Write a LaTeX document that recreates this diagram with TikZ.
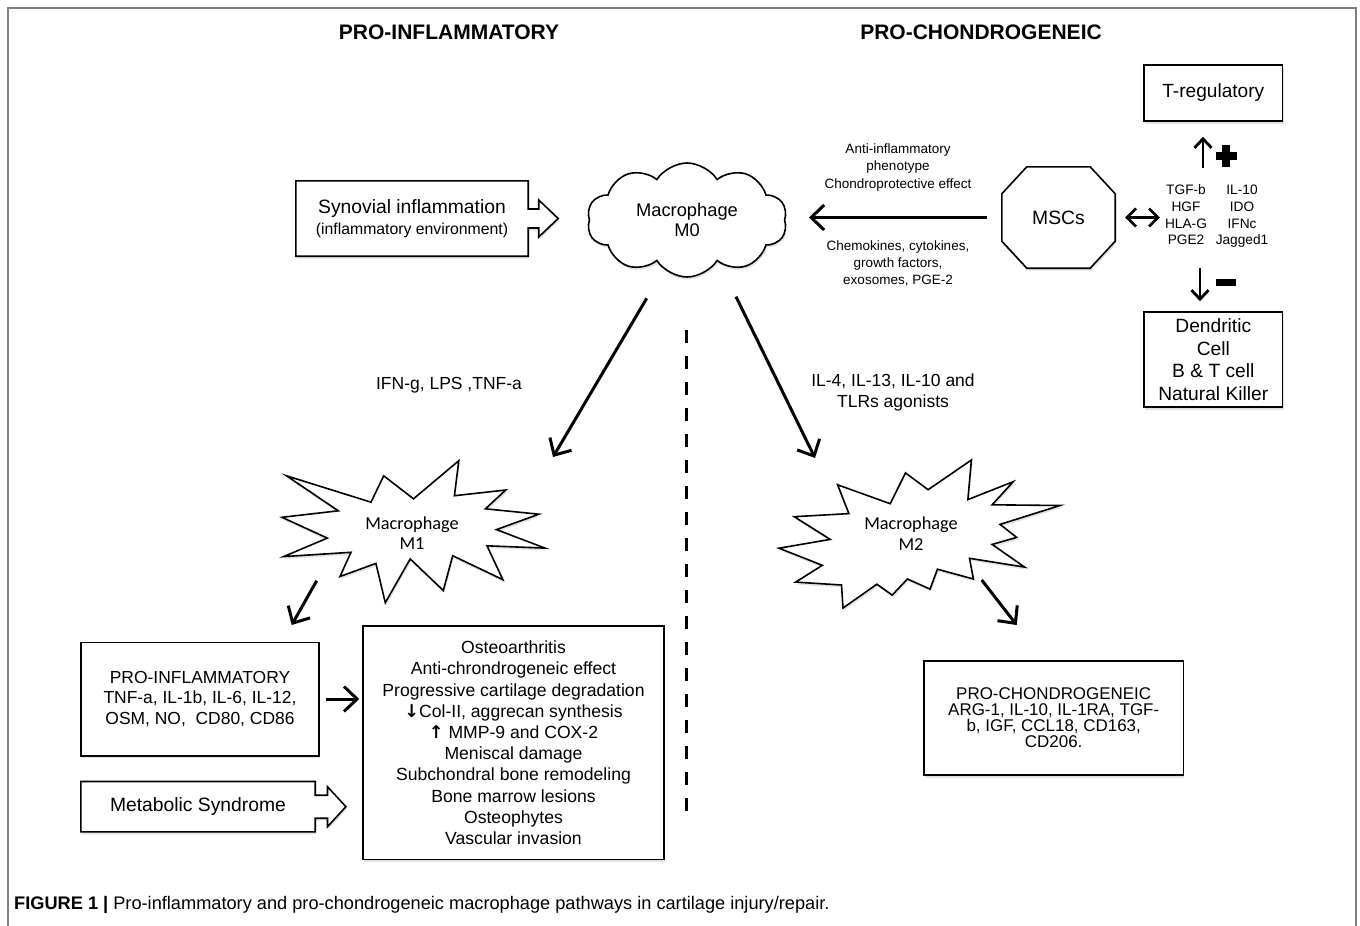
\documentclass[tikz,border=0pt]{standalone}
\usepackage{fontspec}
\setmainfont{Liberation Sans}
\newfontfamily\carl{Carlito}
\newfontfamily\dvs{DejaVu Sans}
\usetikzlibrary{arrows.meta,shapes.symbols,shadows,calc}
\newcommand{\setfs}[2]{\fontsize{#1}{#2}\selectfont}
\pgfdeclarelayer{back}
\pgfdeclarelayer{bg}
\pgfsetlayers{back,bg,main}
\begin{document}
\begin{tikzpicture}[x=1pt,y=-1pt,
  boxline/.style={draw=black, line width=1.6pt},
  shad/.style={drop shadow={shadow xshift=1pt,shadow yshift=-2.5pt,opacity=.22}},
  textbox/.style={boxline, fill=white, shad, align=center, inner sep=0pt},
  plain/.style={inner sep=0pt, align=center},
  arr/.style={line width=3pt, -{Straight Barb[length=13pt,width=25pt]}},
  arrsm/.style={line width=2.8pt, -{Straight Barb[length=9pt,width=17pt]}},
  dblarr/.style={line width=2.6pt, {Straight Barb[length=9pt,width=18pt]}-{Straight Barb[length=9pt,width=18pt]}},
  starline/.style={draw=black, line width=1.6pt, fill=white, shad}
]
\useasboundingbox (0,0) rectangle (1360,926);
\begin{pgfonlayer}{back}
\fill[white] (0,0) rectangle (1360,926);
\end{pgfonlayer}
% outer frame
\draw[black!50, line width=2pt] (8,932) -- (8,8) -- (1356,8) -- (1356,932);

% titles
\node[font=\bfseries\setfs{21}{24}] (tpi) at (449,32) {PRO-INFLAMMATORY};
\node[font=\bfseries\setfs{21}{24}] (tpc) at (981,32) {PRO-CHONDROGENEIC};

% synovial inflammation block arrow
\node[plain, minimum width=232, minimum height=75, font=\setfs{19.3}{21}] (syn) at (412,218.5)
  {Synovial inflammation\\{\setfs{15.8}{21}(inflammatory environment)}};
\begin{pgfonlayer}{bg}
\draw[boxline, fill=white, shad] (syn.north west) -- (syn.north east) -- ($(syn.east)+(0,-9.5)$) -- ++(10.5,0) -- ++(0,-9)
  -- ($(syn.east)+(30,0)$) -- ($(syn.east)+(10.5,18.5)$) -- ++(0,-9) -- ($(syn.east)+(0,9.5)$)
  -- (syn.south east) -- (syn.south west) -- cycle;
\end{pgfonlayer}

% macrophage M0 cloud
\node[cloud, cloud puffs=10, cloud puff arc=115, aspect=1.75, boxline, fill=white, shad,
  minimum width=200, minimum height=114, inner sep=0pt, align=center, font=\setfs{18.3}{20}] (m0) at (687,220) {Macrophage\\M0};

% MSCs octagon
\node[plain, minimum width=113, minimum height=101, font=\setfs{19.3}{22}] (msc) at (1058.5,217.5) {MSCs};
\begin{pgfonlayer}{bg}
\draw[boxline, fill=white, shad] ($(msc.north west)+(25,0)$) -- ($(msc.north east)+(-25,0)$) -- ($(msc.north east)+(0,27)$)
  -- ($(msc.south east)+(0,-27)$) -- ($(msc.south east)+(-25,0)$) -- ($(msc.south west)+(25,0)$)
  -- ($(msc.south west)+(0,-27)$) -- ($(msc.north west)+(0,27)$) -- cycle;
\end{pgfonlayer}

\coordinate (m0r) at (809,218.3);
\draw[arr, shorten <=15pt] (msc.west) -- (msc.west -| m0r);

\node[plain, font=\setfs{13.5}{17.2}] (lab1) at (898,167.5) {Anti-inflammatory\\phenotype\\Chondroprotective effect};
\node[plain, font=\setfs{13.5}{16.7}] (lab2) at (898,263.5) {Chemokines, cytokines,\\growth factors,\\exosomes, PGE-2};

% cytokines
\node[plain, font=\setfs{13.7}{16.7}] (cyt) at (1216.7,216.5)
  {\begin{tabular}{@{}c@{\hskip 8.8pt}c@{}}TGF-b & IL-10\\ HGF & IDO\\ HLA-G & IFNc\\ PGE2 & Jagged1\end{tabular}};
\draw[dblarr, shorten <=10pt, shorten >=5pt] (msc.east) -- (cyt.west |- msc.east);

% T-regulatory
\node[textbox, minimum width=138.6, minimum height=56, font=\setfs{19.1}{22}] (treg) at (1213.3,93) {T-regulatory};
\coordinate (upS) at (1203,168);
\draw[arrsm, shorten >=15pt] (upS) -- (upS |- treg.south);
\fill (1215.5,152) rectangle (1236.5,160);
\fill (1222,145) rectangle (1230,167);

% dendritic
\node[textbox, minimum width=138.6, minimum height=95, font=\setfs{19.2}{22.7}] (dc) at (1213.3,359.5) {Dendritic\\Cell\\B \& T cell\\Natural Killer};
\coordinate (dnS) at (1200,268);
\draw[arrsm, shorten >=10pt] (dnS) -- (dnS |- dc.north);
\fill (1216,279) rectangle (1236,285.5);

% stimuli labels
\node[plain, font=\setfs{17.5}{21}] (ifn) at (449,385) {IFN-g, LPS ,TNF-a};
\node[plain, font=\setfs{17.5}{21.6}] (il4) at (893,392.5) {IL-4, IL-13, IL-10 and\\TLRs agonists};

% arrows from M0
\coordinate (a1s) at (646.7,298.3);
\coordinate (a1e) at (553,457);
\draw[arr] (a1s) -- (a1e);
\coordinate (a2s) at (736,296.7);
\coordinate (a2e) at (815,458);
\draw[arr] (a2s) -- (a2e);

% dashed divider
\coordinate (dTop) at (686.5,330);
\coordinate (dBot) at (686.5,815);
\draw[line width=3.5pt, dash pattern=on 13pt off 13pt] (dTop) -- (dBot);

% M1 star
\draw[starline] (413.5,498.8) -- (458.8,460.7) -- (454.4,495.7) -- (505.8,490.0) -- (485.4,508.8) -- (538.9,514.2)
  -- (496.4,529.6) -- (545,548.1) -- (487.0,545.8) -- (502.9,579.7) -- (452.7,555.7) -- (443.3,590.5)
  -- (410.2,558.9) -- (385.3,602.7) -- (375.9,563.4) -- (340.0,576.5) -- (351.0,552.3) -- (283.6,556.6)
  -- (327.3,538.1) -- (282,517.3) -- (338.3,510.8) -- (286.5,475.8) -- (371.0,502.2) -- (383.7,475.8) -- cycle;
\node[plain, font=\carl\setfs{18.3}{20.6}] (m1) at (412,533) {Macrophage\\M1};

% M2 star
\draw[starline] (928.1,489.7) -- (905.5,472.9) -- (890.2,503.7) -- (837.6,484.8) -- (848.9,513.6) -- (794.3,516.7)
  -- (830.2,539.4) -- (779,548.2) -- (822.3,565.3) -- (795.7,582.1) -- (841.5,585.0) -- (843.0,608)
  -- (876.9,584.2) -- (892.2,595.1) -- (907.4,579.0) -- (930.1,589.1) -- (937.4,569.2) -- (973.4,579.0)
  -- (969.5,558.3) -- (1024.6,567.1) -- (992.1,544.4) -- (1016.7,537.4) -- (1000.0,524.4) -- (1060,505.5)
  -- (992.1,504.8) -- (1013.2,481.7) -- (967.9,499.6) -- (971.4,460) -- cycle;
\node[plain, font=\carl\setfs{18.3}{20.6}] (m2) at (911,533.7) {Macrophage\\M2};

% arrows to cytokine boxes
\coordinate (b1s) at (316.7,580.7);
\coordinate (b1e) at (291.7,625);
\draw[arr] (b1s) -- (b1e);
\coordinate (b2s) at (981.7,580);
\coordinate (b2e) at (1016.7,625);
\draw[arr] (b2s) -- (b2e);

% pro-inflammatory box
\node[textbox, minimum width=238, minimum height=113.4, font=\setfs{17.45}{20.9}] (pinf) at (200,699)
  {PRO-INFLAMMATORY\\TNF-a, IL-1b, IL-6, IL-12,\\OSM, NO, \ CD80, CD86};

% middle box
\node[textbox, minimum width=301, minimum height=233.3, font=\setfs{17.6}{21.2}] (mid) at (513.5,742.7)
  {Osteoarthritis\\Anti-chrondrogeneic effect\\Progressive cartilage degradation\\{\dvs\bfseries ↓}Col-II, aggrecan synthesis\\{\dvs\bfseries ↑} MMP-9 and COX-2\\Meniscal damage\\Subchondral bone remodeling\\Bone marrow lesions\\Osteophytes\\Vascular invasion};
\draw[arr, shorten <=6pt, shorten >=3pt] (pinf.east) -- (mid.west |- pinf.east);

% metabolic syndrome block arrow
\node[plain, minimum width=234, minimum height=50, font=\setfs{19.3}{22}] (met) at (198,806.7) {Metabolic Syndrome};
\begin{pgfonlayer}{bg}
\draw[boxline, fill=white, shad] (met.north west) -- (met.north east) -- ($(met.east)+(0,-11.5)$) -- ++(12.3,0) -- ++(0,-8.5)
  -- ($(met.east)+(30.7,0)$) -- ($(met.east)+(12.3,20)$) -- ++(0,-8.5) -- ($(met.east)+(0,11.5)$)
  -- (met.south east) -- (met.south west) -- cycle;
\end{pgfonlayer}

% pro-chondrogeneic box
\node[textbox, minimum width=259.3, minimum height=114, font=\setfs{16.95}{16}] (pch) at (1053.7,718)
  {PRO-CHONDROGENEIC\\ARG-1, IL-10, IL-1RA, TGF-\\b, IGF, CCL18, CD163,\\CD206.};

% caption
\node[anchor=west, inner sep=0pt, font=\setfs{18.2}{20}] (cap) at (14,905)
  {\textbf{FIGURE 1 |} Pro-inflammatory and pro-chondrogeneic macrophage pathways in cartilage injury/repair.};
\end{tikzpicture}
\end{document}
